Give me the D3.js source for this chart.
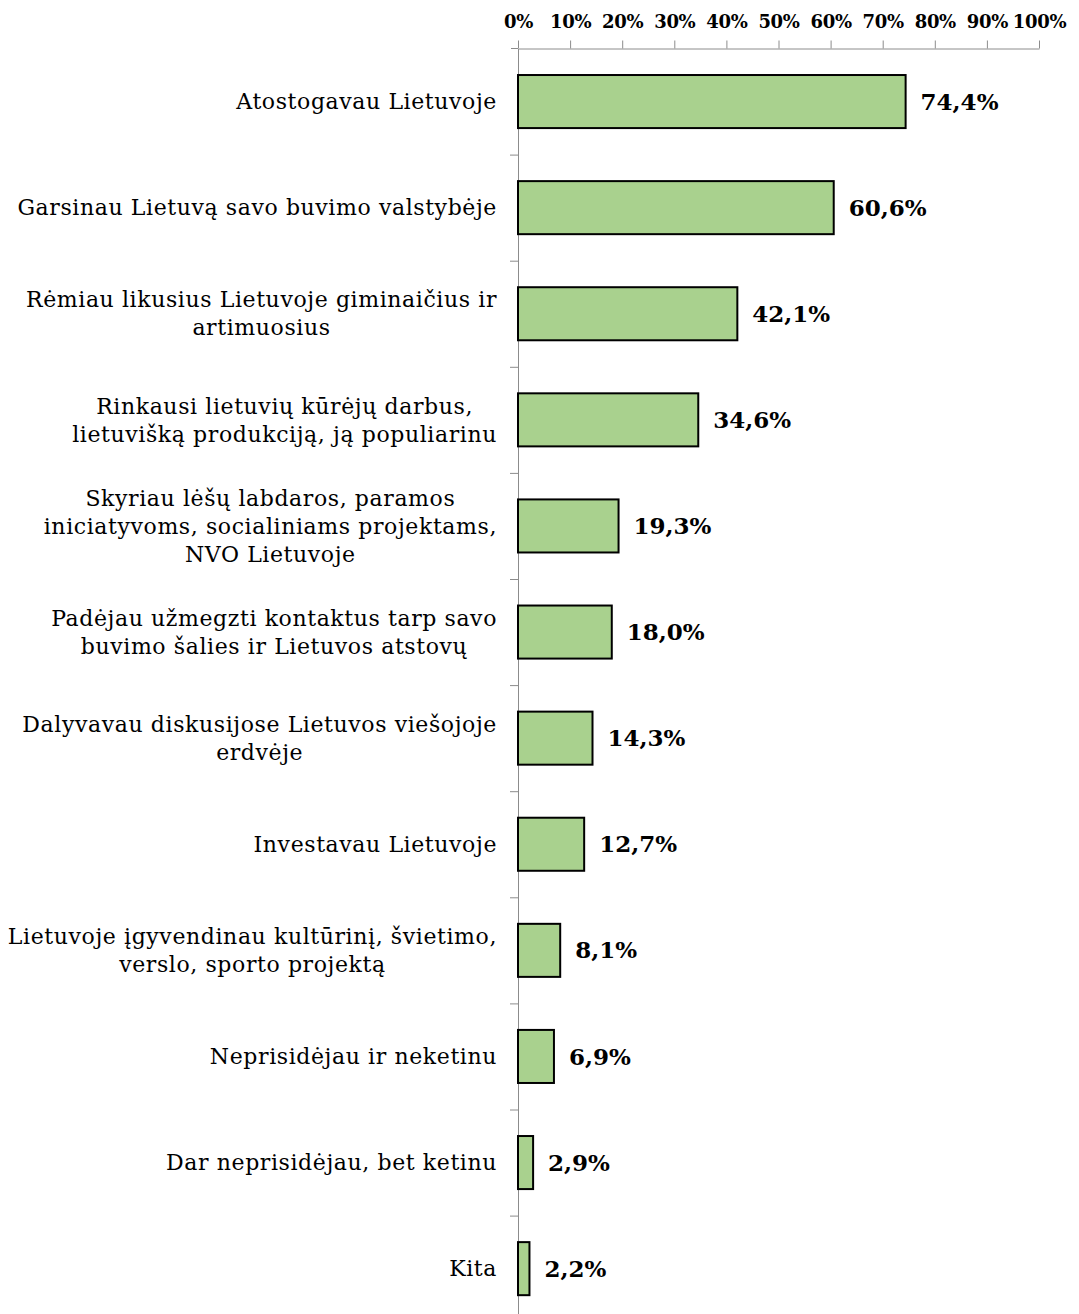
<!DOCTYPE html>
<html>
<head>
<meta charset="utf-8">
<script src="https://cdn.jsdelivr.net/npm/d3@7"></script>
<style>
  body { margin: 0; background: #fff; }
  svg { display: block; }
</style>
</head>
<body>
<div id="chart"></div>
<script>
// data
var categories = [
  "Atostogavau Lietuvoje",
  "Garsinau Lietuvą savo buvimo valstybėje",
  "Rėmiau likusius Lietuvoje giminaičius ir\nartimuosius",
  "Rinkausi lietuvių kūrėjų darbus,\nlietuvišką produkciją, ją populiarinu",
  "Skyriau lėšų labdaros, paramos\niniciatyvoms, socialiniams projektams,\nNVO Lietuvoje",
  "Padėjau užmegzti kontaktus tarp savo\nbuvimo šalies ir Lietuvos atstovų",
  "Dalyvavau diskusijose Lietuvos viešojoje\nerdvėje",
  "Investavau Lietuvoje",
  "Lietuvoje įgyvendinau kultūrinį, švietimo,\nverslo, sporto projektą",
  "Neprisidėjau ir neketinu",
  "Dar neprisidėjau, bet ketinu",
  "Kita"
]
var values = [74.4, 60.6, 42.1, 34.6, 19.3, 18.0, 14.3, 12.7, 8.1, 6.9, 2.9, 2.2]
var xTicks = [0, 10, 20, 30, 40, 50, 60, 70, 80, 90, 100]

var screen = {width: 1079, height: 1314}
var margins = {top: 48.5, left: 518, right: 40}
var band = 106.1

var svg = d3.select("#chart")
  .append("svg")
  .attr("width", screen.width)
  .attr("height", screen.height)

//scales
var xScale = d3.scaleLinear()
  .domain([0, 100])
  .range([margins.left, screen.width - margins.right])

var yScale = d3.scaleBand()
  .domain(categories)
  .range([margins.top, margins.top + band * categories.length])
  .paddingInner(0.5)
  .paddingOuter(0.25)

// boundaries between categories, for the left axis ticks
var bScale = d3.scaleLinear()
  .domain([0, categories.length])
  .range([margins.top, margins.top + band * categories.length])

//axes
var xAxis = d3.axisTop(xScale)
  .tickValues(xTicks)
  .tickFormat(function(d) { return d + "%" })
  .tickSize(8)
  .tickSizeOuter(0)

var gx = svg.append("g")
  .attr("transform", "translate(0," + margins.top + ")")
  .call(xAxis)

gx.selectAll("path, line").attr("stroke", "#8c8c8c").attr("stroke-width", 1)
gx.selectAll("text")
  .attr("y", -21)
  .style("font-family", "'DejaVu Serif', serif")
  .style("font-weight", "bold")
  .style("font-size", "18px")
  .style("letter-spacing", "-0.3px")
  .attr("fill", "#000")

// the top axis line starts a little left of the zero, like the original
gx.append("line")
  .attr("x1", xScale(0) - 7)
  .attr("x2", xScale(0))
  .attr("stroke", "#8c8c8c")

var yAxis = d3.axisLeft(bScale)
  .tickValues(d3.range(1, categories.length + 1))
  .tickFormat("")
  .tickSize(8)
  .tickSizeOuter(0)

var gy = svg.append("g")
  .attr("transform", "translate(" + margins.left + ",0)")
  .call(yAxis)

gy.selectAll("path, line").attr("stroke", "#8c8c8c").attr("stroke-width", 1)

// bars
svg.append("g")
  .selectAll("rect")
  .data(values)
  .enter()
  .append("rect")
  .attr("x", xScale(0))
  .attr("y", function(d, i) { return yScale(categories[i]) })
  .attr("width", function(d) { return xScale(d) - xScale(0) })
  .attr("height", yScale.bandwidth())
  .attr("fill", "#a9d18e")
  .attr("stroke", "#000")
  .attr("stroke-width", 2)

// value labels
svg.append("g")
  .selectAll("text")
  .data(values)
  .enter()
  .append("text")
  .attr("x", function(d) { return xScale(d) + 15 })
  .attr("y", function(d, i) { return yScale(categories[i]) + yScale.bandwidth() / 2 })
  .attr("dy", "0.35em")
  .style("font-family", "'DejaVu Serif', serif")
  .style("font-weight", "bold")
  .style("font-size", "23px")
  .text(function(d) { return d.toFixed(1).replace(".", ",") + "%" })

// category labels, multi line
var lineH = 28
var labels = svg.append("g")
  .selectAll("text")
  .data(categories)
  .enter()
  .append("text")
  .attr("text-anchor", "middle")
  .style("font-family", "'DejaVu Serif', serif")
  .style("font-size", "22px")
  .style("letter-spacing", "0.6px")
  .attr("fill", "#000")

labels.each(function(d) {
  var lines = d.split("\n")
  var cy = yScale(d) + yScale.bandwidth() / 2
  var t = d3.select(this)
  lines.forEach(function(l, j) {
    t.append("tspan")
      .attr("y", cy + (j - (lines.length - 1) / 2) * lineH)
      .attr("dy", "0.35em")
      .text(l)
  })
})

// right align the block, each line centred inside it like the original
labels.each(function() {
  var t = d3.select(this)
  var w = 0
  t.selectAll("tspan").each(function() { w = Math.max(w, this.getComputedTextLength()) })
  t.selectAll("tspan").attr("x", margins.left - 21 - w / 2)
})
</script>
</body>
</html>
